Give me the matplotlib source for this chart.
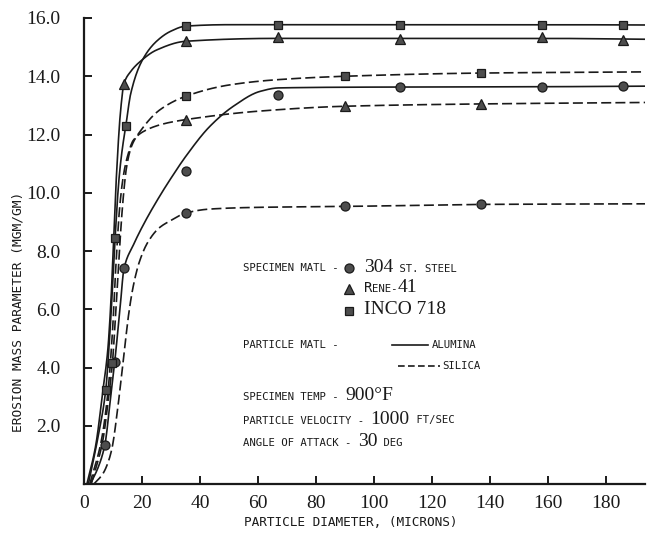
import numpy as np
import matplotlib
matplotlib.use("Agg")
import matplotlib.pyplot as plt
from matplotlib.lines import Line2D
from matplotlib.offsetbox import TextArea, HPacker, AnchoredOffsetbox

# ---------------- data ----------------
# measured points, alumina particles (solid curves)
steel_al_x = [7.2, 10.6, 13.8, 35, 67, 109, 158, 186]
steel_al_y = [1.35, 4.2, 7.4, 10.73, 13.37, 13.62, 13.63, 13.65]
rene_al_x = [13.8, 35, 67, 109, 158, 186]
rene_al_y = [13.75, 15.2, 15.36, 15.28, 15.35, 15.26]
inco_al_x = [7.5, 10.7, 14.4, 35, 67, 109, 158, 186]
inco_al_y = [3.23, 8.45, 12.28, 15.72, 15.77, 15.77, 15.77, 15.76]
# measured points, silica particles (dashed curves)
steel_si_x = [35, 90, 137]
steel_si_y = [9.30, 9.53, 9.61]
rene_si_x = [35, 90, 137]
rene_si_y = [12.51, 12.97, 13.05]
inco_si_x = [9.8, 35, 90, 137]
inco_si_y = [4.15, 13.31, 14.0, 14.11]

# faired curves as drawn on the chart
steel_al_cx = [2.2, 5.0, 7.2, 9.2, 10.6, 12.4, 13.8, 17, 21, 26.2, 30, 35.1, 43.4, 51.5, 60.7, 67.2, 109, 158, 194]
steel_al_cy = [0, 0.6, 1.35, 3.0, 4.2, 6.0, 7.4, 8.2, 9.0, 9.9, 10.5, 11.25, 12.28, 12.97, 13.48, 13.6, 13.63, 13.64, 13.66]
rene_al_cx = [1.0, 4.0, 6.5, 8.2, 9.3, 10.2, 11.3, 12.6, 13.8, 16, 19.3, 25, 35, 67, 109, 158, 194]
rene_al_cy = [0, 1.3, 3.2, 4.6, 6.3, 8.4, 10.8, 12.8, 13.75, 14.15, 14.5, 14.9, 15.2, 15.3, 15.3, 15.3, 15.27]
inco_al_cx = [1.5, 5.0, 7.5, 9.0, 10.7, 12.0, 13.2, 14.4, 16.1, 20.1, 25, 30, 35, 50, 67, 109, 158, 194]
inco_al_cy = [0, 1.7, 3.23, 5.3, 8.4, 10.4, 11.5, 12.28, 13.4, 14.55, 15.2, 15.55, 15.72, 15.77, 15.77, 15.77, 15.77, 15.76]
steel_si_cx = [3.4, 6.5, 8.5, 9.8, 11.5, 13.5, 15.5, 17.0, 19.0, 22.0, 26.0, 30.0, 35, 43.4, 60.7, 90, 137, 194]
steel_si_cy = [0, 0.35, 0.8, 1.3, 2.5, 4.2, 5.9, 6.8, 7.6, 8.3, 8.8, 9.05, 9.3, 9.44, 9.5, 9.53, 9.6, 9.62]
rene_si_cx = [2.0, 6.0, 8.3, 9.8, 11.0, 12.3, 13.6, 15, 17, 21.6, 28, 35, 60, 90, 137, 194]
rene_si_cy = [0, 1.5, 3.2, 5.2, 7.5, 9.5, 10.6, 11.25, 11.8, 12.16, 12.38, 12.51, 12.8, 12.97, 13.05, 13.1]
inco_si_cx = [2.5, 6.5, 8.5, 9.8, 11.0, 12.2, 13.5, 14.7, 16.4, 19.3, 26.2, 35, 50, 66.4, 90, 137, 194]
inco_si_cy = [0, 1.5, 3.0, 4.15, 6.0, 8.0, 9.8, 10.9, 11.6, 12.1, 12.85, 13.31, 13.7, 13.88, 14.0, 14.11, 14.15]

x_ticks = [0, 20, 40, 60, 80, 100, 120, 140, 160, 180]
y_ticks = [2, 4, 6, 8, 10, 12, 14, 16]
y_tick_labels = ["2.0", "4.0", "6.0", "8.0", "10.0", "12.0", "14.0", "16.0"]


def smooth(xp, yp, n=800):
    """Monotone cubic (Fritsch-Carlson) rendering of a faired curve."""
    x = np.asarray(xp, float)
    y = np.asarray(yp, float)
    h = np.diff(x)
    d = np.diff(y) / h
    m = np.zeros(len(x))
    for k in range(1, len(x) - 1):
        if d[k - 1] * d[k] > 0:
            w1 = 2 * h[k] + h[k - 1]
            w2 = h[k] + 2 * h[k - 1]
            m[k] = (w1 + w2) / (w1 / d[k - 1] + w2 / d[k])
    m[0] = d[0]
    m[-1] = d[-1]
    xs = np.linspace(x[0], x[-1], n)
    i = np.clip(np.searchsorted(x, xs) - 1, 0, len(x) - 2)
    t = (xs - x[i]) / h[i]
    h00 = 2 * t**3 - 3 * t**2 + 1
    h10 = t**3 - 2 * t**2 + t
    h01 = -2 * t**3 + 3 * t**2
    h11 = t**3 - t**2
    ys = h00 * y[i] + h10 * h[i] * m[i] + h01 * y[i + 1] + h11 * h[i] * m[i + 1]
    return xs, ys


W, H = 649, 538
fig = plt.figure(figsize=(W / 100, H / 100), dpi=100)
ax = fig.add_axes([84 / W, 1 - 484 / H, (645 - 84) / W, (484 - 18) / H])

INK = "#1a1a1a"
LW = 1.2
DASH = (6, 2.5)
mk = dict(markerfacecolor="#4d4d4d", markeredgecolor="#1a1a1a", markeredgewidth=0.9,
          linestyle="none", zorder=5)

for cx, cy in [(steel_al_cx, steel_al_cy), (rene_al_cx, rene_al_cy), (inco_al_cx, inco_al_cy)]:
    xs, ys = smooth(cx, cy)
    ax.plot(xs, ys, color=INK, lw=LW, solid_capstyle="butt")
for cx, cy in [(steel_si_cx, steel_si_cy), (rene_si_cx, rene_si_cy), (inco_si_cx, inco_si_cy)]:
    xs, ys = smooth(cx, cy)
    ax.plot(xs, ys, color=INK, lw=LW, dashes=DASH)

ax.plot(steel_al_x, steel_al_y, marker="o", markersize=6.5, **mk)
ax.plot(steel_si_x, steel_si_y, marker="o", markersize=6.5, **mk)
ax.plot(rene_al_x, rene_al_y, marker="^", markersize=7, **mk)
ax.plot(rene_si_x, rene_si_y, marker="^", markersize=7, **mk)
ax.plot(inco_al_x, inco_al_y, marker="s", markersize=6, **mk)
ax.plot(inco_si_x, inco_si_y, marker="s", markersize=6, **mk)

ax.set_xlim(0, (645 - 84) / 2.9)
ax.set_ylim(0, 16)
for s in ["top", "right"]:
    ax.spines[s].set_visible(False)
for s in ["left", "bottom"]:
    ax.spines[s].set_linewidth(1.6)
    ax.spines[s].set_color(INK)

NUMFONT = ["Liberation Serif", "DejaVu Serif"]
MONO = ["DejaVu Sans Mono"]

ax.set_xticks(x_ticks)
ax.set_xticklabels([str(v) for v in x_ticks], fontfamily=NUMFONT, fontsize=14)
ax.set_yticks(y_ticks)
ax.set_yticklabels(y_tick_labels, fontfamily=NUMFONT, fontsize=14)
ax.tick_params(axis="both", direction="in", length=6, width=1.4, color=INK, labelcolor=INK)
ax.tick_params(axis="x", pad=8)
ax.tick_params(axis="y", pad=17)

ax.set_xlabel("PARTICLE DIAMETER, (MICRONS)", fontfamily=MONO, fontsize=9.2, color=INK)
ax.xaxis.set_label_coords((351 - 84) / 561, -(523 - 484) / 466)
ax.xaxis.label.set_va("center")
fig.text(18 / W, 1 - 312 / H, "EROSION MASS PARAMETER (MGM/GM)", rotation=90,
         fontfamily=MONO, fontsize=9.3, color=INK, ha="center", va="center")

# ---------------- annotation block ----------------
def ax_x(px):
    return (px - 84) / 561.0


def ax_y(py):
    return (484 - py) / 466.0


def seg_line(xpx, ypx, parts):
    boxes = []
    for txt, fam, size in parts:
        boxes.append(TextArea(txt, textprops=dict(fontfamily=fam, fontsize=size, color=INK)))
    pack = HPacker(children=boxes, align="baseline", pad=0, sep=0)
    ab = AnchoredOffsetbox(loc="center left", child=pack, pad=0, borderpad=0, frameon=False,
                           bbox_to_anchor=(ax_x(xpx), ax_y(ypx)), bbox_transform=ax.transAxes)
    ax.add_artist(ab)


S = 7.7
N = 14
ax.text(ax_x(243), ax_y(268), "SPECIMEN MATL -", transform=ax.transAxes, fontfamily=MONO,
        fontsize=S, color=INK, va="center")
seg_line(364, 267, [("304", NUMFONT, N), (" ST. STEEL", MONO, S)])
seg_line(364, 288, [("R", MONO, 10), ("ENE-", MONO, S), ("41", NUMFONT, N)])
seg_line(364, 310, [("INCO 718", NUMFONT, N)])
for py, m, ms in [(268, "o", 6.5), (289, "^", 7), (311, "s", 6)]:
    ax.add_line(Line2D([ax_x(349)], [ax_y(py)], transform=ax.transAxes, marker=m, markersize=ms, **mk))

ax.text(ax_x(243), ax_y(345), "PARTICLE MATL -", transform=ax.transAxes, fontfamily=MONO,
        fontsize=S, color=INK, va="center")
ax.add_line(Line2D([ax_x(392), ax_x(428)], [ax_y(345), ax_y(345)], transform=ax.transAxes,
                   color=INK, lw=LW))
ax.text(ax_x(432), ax_y(345), "ALUMINA", transform=ax.transAxes, fontfamily=MONO,
        fontsize=S, color=INK, va="center")
ax.add_line(Line2D([ax_x(398), ax_x(440)], [ax_y(366), ax_y(366)], transform=ax.transAxes,
                   color=INK, lw=LW, dashes=(4, 2)))
ax.text(ax_x(442), ax_y(366), "SILICA", transform=ax.transAxes, fontfamily=MONO,
        fontsize=S, color=INK, va="center")

seg_line(243, 396, [("SPECIMEN TEMP - ", MONO, S), ("900°F", NUMFONT, N)])
seg_line(243, 419, [("PARTICLE VELOCITY - ", MONO, S), ("1000", NUMFONT, N), (" FT/SEC", MONO, S)])
seg_line(243, 441, [("ANGLE OF ATTACK - ", MONO, S), ("30", NUMFONT, N), (" DEG", MONO, S)])

fig.savefig("out.png", dpi=100, facecolor="white")
